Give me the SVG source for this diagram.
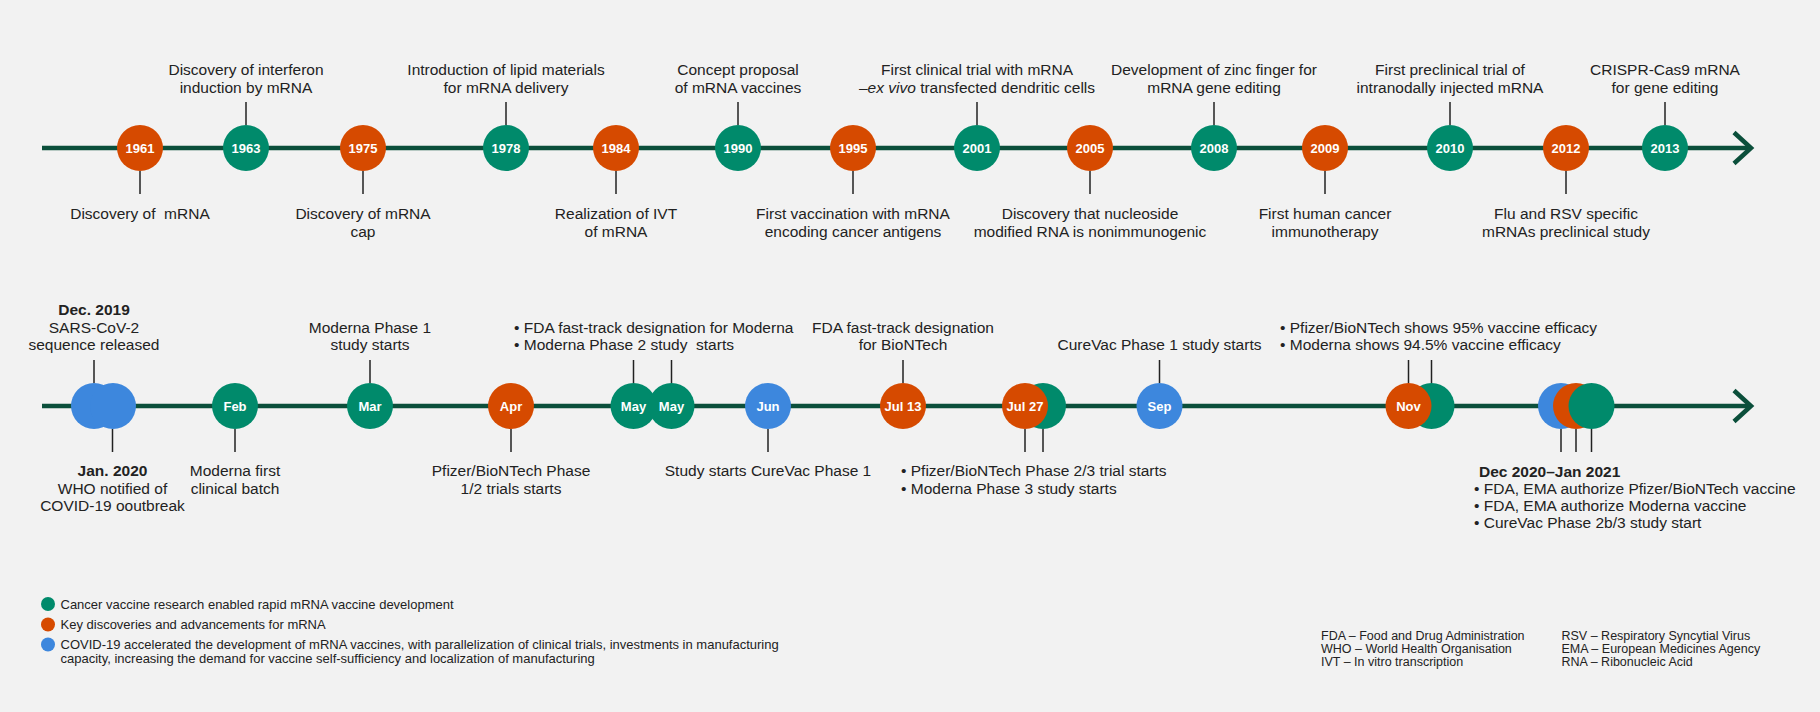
<svg xmlns="http://www.w3.org/2000/svg" width="1820" height="712" viewBox="0 0 1820 712">
<style>
text{font-family:"Liberation Sans",Arial,sans-serif;fill:#222;}
.lb{font-size:15.5px;}
.lc{font-size:15.5px;text-anchor:middle;}
.b{font-weight:bold;}
.yr{font-size:13px;font-weight:bold;fill:#fff;text-anchor:middle;}
.sm{font-size:13px;}
.ab{font-size:12.5px;}
.o{fill:#d64a00;}
.g{fill:#008a6b;}
.bl{fill:#3d87dd;}
.axis{stroke:#0b4f3b;stroke-width:4.5;fill:none;}
.stem{stroke:#222;stroke-width:1.5;}
</style>
<rect width="1820" height="712" fill="#f2f2f2"/>
<g id="connectors">
<line class="axis" x1="42" y1="148" x2="1750" y2="148"/>
<polyline class="axis" points="1734,132.5 1751,148 1734,163.5"/>
<line class="axis" x1="42" y1="406" x2="1750" y2="406"/>
<polyline class="axis" points="1734,390.5 1751,406 1734,421.5"/>
<line class="stem" x1="140" y1="171" x2="140" y2="194"/>
<line class="stem" x1="246" y1="102" x2="246" y2="125"/>
<line class="stem" x1="363" y1="171" x2="363" y2="194"/>
<line class="stem" x1="506" y1="102" x2="506" y2="125"/>
<line class="stem" x1="616" y1="171" x2="616" y2="194"/>
<line class="stem" x1="738" y1="102" x2="738" y2="125"/>
<line class="stem" x1="853" y1="171" x2="853" y2="194"/>
<line class="stem" x1="977" y1="102" x2="977" y2="125"/>
<line class="stem" x1="1090" y1="171" x2="1090" y2="194"/>
<line class="stem" x1="1214" y1="102" x2="1214" y2="125"/>
<line class="stem" x1="1325" y1="171" x2="1325" y2="194"/>
<line class="stem" x1="1450" y1="102" x2="1450" y2="125"/>
<line class="stem" x1="1566" y1="171" x2="1566" y2="194"/>
<line class="stem" x1="1665" y1="102" x2="1665" y2="125"/>
<line class="stem" x1="94" y1="360" x2="94" y2="383"/>
<line class="stem" x1="112.5" y1="429" x2="112.5" y2="452"/>
<line class="stem" x1="235" y1="429" x2="235" y2="452"/>
<line class="stem" x1="370" y1="360" x2="370" y2="383"/>
<line class="stem" x1="511" y1="429" x2="511" y2="452"/>
<line class="stem" x1="633.5" y1="360" x2="633.5" y2="383"/>
<line class="stem" x1="671.5" y1="360" x2="671.5" y2="383"/>
<line class="stem" x1="768" y1="429" x2="768" y2="452"/>
<line class="stem" x1="903" y1="360" x2="903" y2="383"/>
<line class="stem" x1="1025" y1="429" x2="1025" y2="452"/>
<line class="stem" x1="1043" y1="429" x2="1043" y2="452"/>
<line class="stem" x1="1159.5" y1="360" x2="1159.5" y2="383"/>
<line class="stem" x1="1408.5" y1="360" x2="1408.5" y2="383"/>
<line class="stem" x1="1431.5" y1="360" x2="1431.5" y2="383"/>
<line class="stem" x1="1561" y1="429" x2="1561" y2="452"/>
<line class="stem" x1="1576" y1="429" x2="1576" y2="452"/>
<line class="stem" x1="1591.5" y1="429" x2="1591.5" y2="452"/>
</g>

<g id="n1961"><circle class="o" cx="140" cy="148" r="23"/><text class="yr" x="140" y="152.5">1961</text>
<text class="lc" x="140" y="219">Discovery of&#160; mRNA</text></g>
<g id="n1963"><circle class="g" cx="246" cy="148" r="23"/><text class="yr" x="246" y="152.5">1963</text>
<text class="lc" x="246" y="75">Discovery of interferon</text><text class="lc" x="246" y="92.5">induction by mRNA</text></g>
<g id="n1975"><circle class="o" cx="363" cy="148" r="23"/><text class="yr" x="363" y="152.5">1975</text>
<text class="lc" x="363" y="219">Discovery of mRNA</text><text class="lc" x="363" y="236.5">cap</text></g>
<g id="n1978"><circle class="g" cx="506" cy="148" r="23"/><text class="yr" x="506" y="152.5">1978</text>
<text class="lc" x="506" y="75">Introduction of lipid materials</text><text class="lc" x="506" y="92.5">for mRNA delivery</text></g>
<g id="n1984"><circle class="o" cx="616" cy="148" r="23"/><text class="yr" x="616" y="152.5">1984</text>
<text class="lc" x="616" y="219">Realization of IVT</text><text class="lc" x="616" y="236.5">of mRNA</text></g>
<g id="n1990"><circle class="g" cx="738" cy="148" r="23"/><text class="yr" x="738" y="152.5">1990</text>
<text class="lc" x="738" y="75">Concept proposal</text><text class="lc" x="738" y="92.5">of mRNA vaccines</text></g>
<g id="n1995"><circle class="o" cx="853" cy="148" r="23"/><text class="yr" x="853" y="152.5">1995</text>
<text class="lc" x="853" y="219">First vaccination with mRNA</text><text class="lc" x="853" y="236.5">encoding cancer antigens</text></g>
<g id="n2001"><circle class="g" cx="977" cy="148" r="23"/><text class="yr" x="977" y="152.5">2001</text>
<text class="lc" x="977" y="75">First clinical trial with mRNA</text><text class="lc" x="977" y="92.5">–<tspan font-style="italic">ex vivo</tspan> transfected dendritic cells</text></g>
<g id="n2005"><circle class="o" cx="1090" cy="148" r="23"/><text class="yr" x="1090" y="152.5">2005</text>
<text class="lc" x="1090" y="219">Discovery that nucleoside</text><text class="lc" x="1090" y="236.5">modified RNA is nonimmunogenic</text></g>
<g id="n2008"><circle class="g" cx="1214" cy="148" r="23"/><text class="yr" x="1214" y="152.5">2008</text>
<text class="lc" x="1214" y="75">Development of zinc finger for</text><text class="lc" x="1214" y="92.5">mRNA gene editing</text></g>
<g id="n2009"><circle class="o" cx="1325" cy="148" r="23"/><text class="yr" x="1325" y="152.5">2009</text>
<text class="lc" x="1325" y="219">First human cancer</text><text class="lc" x="1325" y="236.5">immunotherapy</text></g>
<g id="n2010"><circle class="g" cx="1450" cy="148" r="23"/><text class="yr" x="1450" y="152.5">2010</text>
<text class="lc" x="1450" y="75">First preclinical trial of</text><text class="lc" x="1450" y="92.5">intranodally injected mRNA</text></g>
<g id="n2012"><circle class="o" cx="1566" cy="148" r="23"/><text class="yr" x="1566" y="152.5">2012</text>
<text class="lc" x="1566" y="219">Flu and RSV specific</text><text class="lc" x="1566" y="236.5">mRNAs preclinical study</text></g>
<g id="n2013"><circle class="g" cx="1665" cy="148" r="23"/><text class="yr" x="1665" y="152.5">2013</text>
<text class="lc" x="1665" y="75">CRISPR-Cas9 mRNA</text><text class="lc" x="1665" y="92.5">for gene editing</text></g>

<g id="nDec2019"><circle class="bl" cx="94" cy="406" r="23"/><circle class="bl" cx="113" cy="406" r="23"/>
<text class="lc b" x="94" y="315">Dec. 2019</text><text class="lc" x="94" y="332.5">SARS-CoV-2</text><text class="lc" x="94" y="350">sequence released</text>
<text class="lc b" x="112.5" y="476">Jan. 2020</text><text class="lc" x="112.5" y="493.5">WHO notified of</text><text class="lc" x="112.5" y="511">COVID-19 ooutbreak</text></g>
<g id="nFeb"><circle class="g" cx="235" cy="406" r="23"/><text class="yr" x="235" y="410.5">Feb</text>
<text class="lc" x="235" y="476">Moderna first</text><text class="lc" x="235" y="493.5">clinical batch</text></g>
<g id="nMar"><circle class="g" cx="370" cy="406" r="23"/><text class="yr" x="370" y="410.5">Mar</text>
<text class="lc" x="370" y="332.5">Moderna Phase 1</text><text class="lc" x="370" y="350">study starts</text></g>
<g id="nApr"><circle class="o" cx="511" cy="406" r="23"/><text class="yr" x="511" y="410.5">Apr</text>
<text class="lc" x="511" y="476">Pfizer/BioNTech Phase</text><text class="lc" x="511" y="493.5">1/2 trials starts</text></g>
<g id="nMay"><circle class="g" cx="633.5" cy="406" r="23"/><circle class="g" cx="671.5" cy="406" r="23"/>
<text class="yr" x="633.5" y="410.5">May</text><text class="yr" x="671.5" y="410.5">May</text>
<text class="lb" x="514" y="332.5">• FDA fast-track designation for Moderna</text><text class="lb" x="514" y="350">• Moderna Phase 2 study&#160; starts</text></g>
<g id="nJun"><circle class="bl" cx="768" cy="406" r="23"/><text class="yr" x="768" y="410.5">Jun</text>
<text class="lc" x="768" y="476">Study starts CureVac Phase 1</text></g>
<g id="nJul13"><circle class="o" cx="903" cy="406" r="23"/><text class="yr" x="903" y="410.5">Jul 13</text>
<text class="lc" x="903" y="332.5">FDA fast-track designation</text><text class="lc" x="903" y="350">for BioNTech</text></g>
<g id="nJul27"><circle class="g" cx="1043" cy="406" r="23"/><circle class="o" cx="1025" cy="406" r="23"/><text class="yr" x="1025" y="410.5">Jul 27</text>
<text class="lb" x="901" y="476">• Pfizer/BioNTech Phase 2/3 trial starts</text><text class="lb" x="901" y="493.5">• Moderna Phase 3 study starts</text></g>
<g id="nSep"><circle class="bl" cx="1159.5" cy="406" r="23"/><text class="yr" x="1159.5" y="410.5">Sep</text>
<text class="lc" x="1159.5" y="350">CureVac Phase 1 study starts</text></g>
<g id="nNov"><circle class="g" cx="1431.5" cy="406" r="23"/><circle class="o" cx="1408.5" cy="406" r="23"/><text class="yr" x="1408.5" y="410.5">Nov</text>
<text class="lb" x="1280" y="332.5">• Pfizer/BioNTech shows 95% vaccine efficacy</text><text class="lb" x="1280" y="350">• Moderna shows 94.5% vaccine efficacy</text></g>
<g id="nDec2020"><circle class="bl" cx="1561" cy="406" r="23"/><circle class="o" cx="1576" cy="406" r="23"/><circle class="g" cx="1591.5" cy="406" r="23"/>
<text class="lb b" x="1479" y="476.5">Dec 2020–Jan 2021</text>
<text class="lb" x="1474" y="494">• FDA, EMA authorize Pfizer/BioNTech vaccine</text>
<text class="lb" x="1474" y="511">• FDA, EMA authorize Moderna vaccine</text>
<text class="lb" x="1474" y="528">• CureVac Phase 2b/3 study start</text></g>

<g id="legend">
<circle class="g" cx="48" cy="604" r="7"/><text class="sm" x="60.5" y="608.5">Cancer vaccine research enabled rapid mRNA vaccine development</text>
<circle class="o" cx="48" cy="624.5" r="7"/><text class="sm" x="60.5" y="629">Key discoveries and advancements for mRNA</text>
<circle class="bl" cx="48" cy="644.5" r="7"/><text class="sm" x="60.5" y="649">COVID-19 accelerated the development of mRNA vaccines, with parallelization of clinical trials, investments in manufacturing</text>
<text class="sm" x="60.5" y="663">capacity, increasing the demand for vaccine self-sufficiency and localization of manufacturing</text>
</g>
<g id="abbreviations">
<text class="ab" x="1321" y="640">FDA – Food and Drug Administration</text>
<text class="ab" x="1321" y="653">WHO – World Health Organisation</text>
<text class="ab" x="1321" y="666">IVT – In vitro transcription</text>
<text class="ab" x="1561.5" y="640">RSV – Respiratory Syncytial Virus</text>
<text class="ab" x="1561.5" y="653">EMA – European Medicines Agency</text>
<text class="ab" x="1561.5" y="666">RNA – Ribonucleic Acid</text>
</g>
</svg>
